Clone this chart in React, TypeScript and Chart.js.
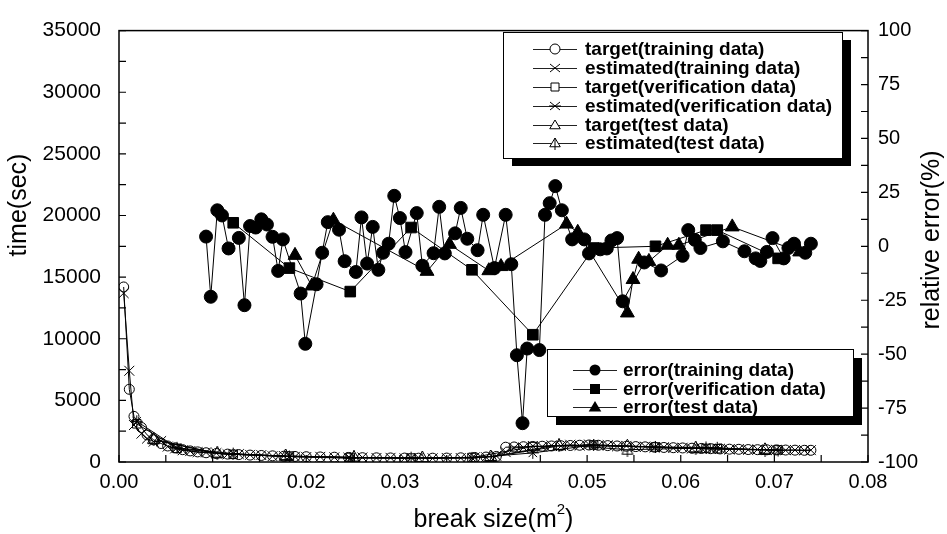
import React, { useEffect, useRef } from "react";
import { Chart, registerables } from "chart.js";

Chart.register(...registerables);

// ---------- data ----------
const xTickValues = [0, 0.01, 0.02, 0.03, 0.04, 0.05, 0.06, 0.07, 0.08];

// time curves (left axis, sec)
const trainTimeX = [0.0005, 0.0011, 0.0016, 0.0024, 0.003, 0.0037, 0.0045, 0.0052, 0.006, 0.0068, 0.0076, 0.0084, 0.0093, 0.0104, 0.0116, 0.0128, 0.014, 0.0152, 0.0164, 0.0176, 0.0188, 0.02, 0.0215, 0.023, 0.0245, 0.026, 0.0275, 0.029, 0.0305, 0.032, 0.0335, 0.035, 0.0365, 0.038, 0.0392, 0.0403, 0.0413, 0.0422, 0.0432, 0.0442, 0.0452, 0.0462, 0.0472, 0.0482, 0.0492, 0.0502, 0.0512, 0.0522, 0.0532, 0.0542, 0.0552, 0.0562, 0.0572, 0.0582, 0.0592, 0.0602, 0.0612, 0.0622, 0.0632, 0.0642, 0.0652, 0.0662, 0.0672, 0.0682, 0.0692, 0.0702, 0.0712, 0.0722, 0.0732, 0.0739];
const trainTarget = [14200, 5900, 3700, 2800, 2200, 1800, 1500, 1300, 1150, 1000, 900, 820, 750, 690, 640, 600, 560, 530, 500, 470, 450, 430, 410, 390, 370, 350, 340, 330, 320, 310, 310, 320, 340, 370, 400, 450, 1200, 1220, 1240, 1260, 1280, 1300, 1320, 1340, 1360, 1380, 1360, 1330, 1300, 1280, 1250, 1230, 1200, 1180, 1160, 1140, 1120, 1100, 1080, 1060, 1040, 1030, 1010, 1000, 990, 980, 970, 960, 950, 950];
const trainEstimated = [13700, 7400, 3000, 2300, 1900, 1650, 1700, 1250, 1100, 950, 880, 800, 780, 720, 620, 640, 580, 560, 470, 490, 430, 400, 420, 380, 350, 370, 330, 340, 300, 330, 300, 330, 320, 380, 390, 500, 800, 1150, 1180, 1300, 1240, 1350, 1290, 1400, 1330, 1420, 1340, 1360, 1270, 1310, 1220, 1250, 1170, 1200, 1130, 1160, 1090, 1120, 1050, 1080, 1010, 1050, 990, 1020, 970, 990, 950, 970, 940, 960];

const verTimeX = [0.0019, 0.0062, 0.0122, 0.0182, 0.0247, 0.0312, 0.0377, 0.0442, 0.0507, 0.0573, 0.0627, 0.0639, 0.0704];
const verTarget = [3100, 1100, 620, 480, 370, 320, 360, 1250, 1380, 1220, 1100, 1080, 980];
const verEstimated = [3300, 1150, 680, 440, 300, 350, 330, 740, 1380, 1220, 1180, 1150, 930];

const testTimeX = [0.0037, 0.0105, 0.0178, 0.0251, 0.0324, 0.0397, 0.047, 0.0543, 0.0616, 0.069];
const testTarget = [1800, 680, 480, 360, 310, 400, 1300, 1280, 1110, 990];
const testEstimated = [1850, 700, 470, 380, 290, 420, 1400, 1000, 1120, 980];

// relative error (right axis, %)
const trainErrX = [0.0093, 0.0098, 0.0105, 0.011, 0.0117, 0.0128, 0.0134, 0.014, 0.0146, 0.0152, 0.0158, 0.0164, 0.017, 0.0175, 0.0194, 0.0199, 0.0211, 0.0217, 0.0223, 0.0235, 0.0241, 0.0253, 0.0259, 0.0265, 0.0271, 0.0277, 0.0282, 0.0288, 0.0294, 0.03, 0.0306, 0.0318, 0.0324, 0.0336, 0.0342, 0.0348, 0.0359, 0.0365, 0.0372, 0.0383, 0.0389, 0.0401, 0.0413, 0.0419, 0.0425, 0.0431, 0.0436, 0.0449, 0.0455, 0.046, 0.0466, 0.0473, 0.0484, 0.0497, 0.0502, 0.0514, 0.0521, 0.0526, 0.0532, 0.0538, 0.0561, 0.0579, 0.0602, 0.0608, 0.0615, 0.0621, 0.0645, 0.0668, 0.068, 0.0685, 0.0692, 0.0698, 0.071, 0.0715, 0.0721, 0.0733, 0.0739];
const trainErr = [4.5, -23.4, 16.7, 14.3, -1, 3.9, -27.3, 9.4, 8.7, 12.5, 10.1, 4.4, -11.4, 3.2, -21.9, -45.2, -17.6, -3, 11.2, 7.7, -6.9, -11.9, 13.4, -8, 9, -10.9, -3, 1.2, 23.4, 13.1, -2.7, 15.4, -9, -3.2, 18.3, -3.3, 6, 17.8, 3.5, -1.8, 14.6, -10.1, 14.6, -8.3, -50.5, -82, -47.4, -48.1, 14.6, 20, 27.9, 16.7, 3.2, 3.2, -3.3, -1.4, -1, 2.7, 3.8, -25.5, -7.5, -11.2, -4.4, 7.5, 3, -0.8, 2.3, -2.3, -5.6, -6.8, -2.6, 3.8, -5.6, -0.8, 1.2, -3, 1.2];

const verErrX = [0.0122, 0.0182, 0.0247, 0.0312, 0.0377, 0.0442, 0.0507, 0.0573, 0.0627, 0.0639, 0.0704];
const verErr = [10.9, -10.1, -21, 8.7, -10.9, -41, -0.8, 0, 7.5, 7.5, -5.6];

const testErrX = [0.0188, 0.0206, 0.0229, 0.0329, 0.0353, 0.0395, 0.0408, 0.0478, 0.049, 0.0543, 0.0549, 0.0555, 0.0566, 0.0586, 0.0598, 0.0655, 0.0727];
const testErr = [-4.2, -18.4, 12.1, -11.6, 0.9, -11.3, -9.4, 10.3, 6.5, -30.9, -15.4, -6, -7, 0.5, 0.5, 9, -2.6];

const topLegendLabels = [
  "target(training data)",
  "estimated(training data)",
  "target(verification data)",
  "estimated(verification data)",
  "target(test data)",
  "estimated(test data)",
];
const bottomLegendLabels = ["error(training data)", "error(verification data)", "error(test data)"];

// ---------- helpers ----------
const FONT = '"Liberation Sans", Arial, Helvetica, sans-serif';
const pts = (xs: number[], ys: number[]) => xs.map((x, i) => ({ x, y: ys[i] }));

function makeTriLine(): HTMLCanvasElement {
  const c = document.createElement("canvas");
  c.width = 14;
  c.height = 14;
  const g = c.getContext("2d")!;
  g.strokeStyle = "#000";
  g.lineWidth = 1;
  g.beginPath();
  g.moveTo(7, 1.5);
  g.lineTo(12.5, 11.5);
  g.lineTo(1.5, 11.5);
  g.closePath();
  g.moveTo(7, 0);
  g.lineTo(7, 14);
  g.stroke();
  return c;
}

function drawMarker(ctx: CanvasRenderingContext2D, kind: string, x: number, y: number) {
  ctx.save();
  ctx.strokeStyle = "#000";
  ctx.fillStyle = "#000";
  ctx.lineWidth = 1;
  ctx.beginPath();
  const tri = (s: number) => {
    ctx.moveTo(x, y - s);
    ctx.lineTo(x + s * 1.05, y + s * 0.75);
    ctx.lineTo(x - s * 1.05, y + s * 0.75);
    ctx.closePath();
  };
  switch (kind) {
    case "circleOpen":
      ctx.fillStyle = "#fff";
      ctx.arc(x, y, 5, 0, Math.PI * 2);
      ctx.fill();
      ctx.stroke();
      break;
    case "x":
      ctx.moveTo(x - 5, y - 4);
      ctx.lineTo(x + 5, y + 4);
      ctx.moveTo(x - 5, y + 4);
      ctx.lineTo(x + 5, y - 4);
      ctx.stroke();
      break;
    case "squareOpen":
      ctx.fillStyle = "#fff";
      ctx.rect(x - 4, y - 4, 8, 8);
      ctx.fill();
      ctx.stroke();
      break;
    case "star":
      ctx.moveTo(x - 5, y - 4);
      ctx.lineTo(x + 5, y + 4);
      ctx.moveTo(x - 5, y + 4);
      ctx.lineTo(x + 5, y - 4);
      ctx.moveTo(x - 6, y);
      ctx.lineTo(x + 6, y);
      ctx.stroke();
      break;
    case "triOpen":
      ctx.fillStyle = "#fff";
      tri(5);
      ctx.fill();
      ctx.stroke();
      break;
    case "triLine":
      ctx.fillStyle = "#fff";
      tri(5);
      ctx.fill();
      ctx.stroke();
      ctx.beginPath();
      ctx.moveTo(x, y - 5);
      ctx.lineTo(x, y + 7);
      ctx.stroke();
      break;
    case "circleFill":
      ctx.arc(x, y, 5.5, 0, Math.PI * 2);
      ctx.fill();
      break;
    case "squareFill":
      ctx.rect(x - 5, y - 5, 10, 10);
      ctx.fill();
      break;
    case "triFill":
      tri(6);
      ctx.fill();
      break;
  }
  ctx.restore();
}

function drawLegend(
  ctx: CanvasRenderingContext2D,
  box: { x: number; y: number; w: number; h: number; dx: number; dy: number },
  rows: number[],
  lineX0: number,
  lineX1: number,
  textX: number,
  labels: string[],
  markers: string[]
) {
  ctx.save();
  ctx.fillStyle = "#000";
  ctx.fillRect(box.x + box.dx, box.y + box.dy, box.w, box.h);
  ctx.fillStyle = "#fff";
  ctx.fillRect(box.x, box.y, box.w, box.h);
  ctx.strokeStyle = "#000";
  ctx.lineWidth = 1;
  ctx.strokeRect(box.x + 0.5, box.y + 0.5, box.w, box.h);
  labels.forEach((label, i) => {
    const y = rows[i];
    ctx.strokeStyle = "#222";
    ctx.beginPath();
    ctx.moveTo(lineX0, y + 0.5);
    ctx.lineTo(lineX1, y + 0.5);
    ctx.stroke();
    drawMarker(ctx, markers[i], (lineX0 + lineX1) / 2, y);
    ctx.fillStyle = "#000";
    ctx.font = `bold 19px ${FONT}`;
    ctx.textBaseline = "middle";
    ctx.textAlign = "left";
    ctx.fillText(label, textX, y + 1);
  });
  ctx.restore();
}

const TITLE_SIZE = 25;

const decorPlugin = {
  id: "decor",
  afterDraw(chart: any) {
    const ctx: CanvasRenderingContext2D = chart.ctx;
    const a = chart.chartArea;
    const xs = chart.scales.x;
    const yl = chart.scales.y;
    const yr = chart.scales.y2;
    ctx.save();
    // frame
    ctx.strokeStyle = "#000";
    ctx.lineWidth = 1.5;
    ctx.strokeRect(a.left, a.top, a.right - a.left, a.bottom - a.top);
    // inward tick marks
    ctx.lineWidth = 1.2;
    ctx.beginPath();
    for (let i = 0; i <= 16; i++) {
      const px = xs.getPixelForValue(i * 0.005);
      ctx.moveTo(px, a.bottom);
      ctx.lineTo(px, a.bottom - 7);
    }
    for (let i = 0; i <= 14; i++) {
      const py = yl.getPixelForValue(i * 2500);
      ctx.moveTo(a.left, py);
      ctx.lineTo(a.left + 7, py);
    }
    for (let i = 0; i <= 16; i++) {
      const py = yr.getPixelForValue(-100 + i * 12.5);
      ctx.moveTo(a.right, py);
      ctx.lineTo(a.right - 7, py);
    }
    ctx.stroke();

    // axis titles
    ctx.fillStyle = "#000";
    ctx.font = `${TITLE_SIZE}px ${FONT}`;
    ctx.textBaseline = "middle";
    const t1 = "break size(m";
    const t2 = "2";
    const t3 = ")";
    const w1 = ctx.measureText(t1).width;
    const w3 = ctx.measureText(t3).width;
    ctx.font = `15px ${FONT}`;
    const w2 = ctx.measureText(t2).width;
    const total = w1 + w2 + w3;
    const cx = (a.left + a.right) / 2;
    let sx = cx - total / 2;
    const ty = 520;
    ctx.textAlign = "left";
    ctx.font = `${TITLE_SIZE}px ${FONT}`;
    ctx.fillText(t1, sx, ty);
    sx += w1;
    ctx.font = `15px ${FONT}`;
    ctx.fillText(t2, sx, ty - 10);
    sx += w2;
    ctx.font = `${TITLE_SIZE}px ${FONT}`;
    ctx.fillText(t3, sx, ty);

    ctx.save();
    ctx.translate(19, 205);
    ctx.rotate(-Math.PI / 2);
    ctx.textAlign = "center";
    ctx.fillText("time(sec)", 0, 0);
    ctx.restore();
    ctx.save();
    ctx.translate(932, 240);
    ctx.rotate(-Math.PI / 2);
    ctx.textAlign = "center";
    ctx.fillText("relative error(%)", 0, 0);
    ctx.restore();

    drawLegend(
      ctx,
      { x: 503, y: 32, w: 339, h: 126, dx: 9, dy: 8 },
      [49, 68, 87, 106, 125, 143],
      533,
      577,
      585,
      topLegendLabels,
      ["circleOpen", "x", "squareOpen", "star", "triOpen", "triLine"]
    );
    drawLegend(
      ctx,
      { x: 547, y: 349, w: 306, h: 67, dx: 9, dy: 9 },
      [370, 389, 407],
      573,
      617,
      623,
      bottomLegendLabels,
      ["circleFill", "squareFill", "triFill"]
    );
    ctx.restore();
  },
};

export default function App() {
  const ref = useRef<HTMLCanvasElement>(null);
  useEffect(() => {
    document.body.style.margin = "0";
    const canvas = ref.current!;
    const triLine = makeTriLine();
    const lineCommon = {
      borderColor: "#000",
      borderWidth: 1,
      showLine: true,
      tension: 0,
      pointBorderColor: "#000",
      pointBorderWidth: 1,
      pointHoverRadius: 0,
    };
    const chart = new Chart(canvas, {
      type: "line",
      data: {
        datasets: [
          { ...lineCommon, label: "target(training data)", yAxisID: "y", data: pts(trainTimeX, trainTarget), pointStyle: "circle", pointRadius: 5, pointBackgroundColor: "rgba(0,0,0,0)" },
          { ...lineCommon, label: "estimated(training data)", yAxisID: "y", data: pts(trainTimeX, trainEstimated), pointStyle: "crossRot", pointRadius: 7, pointBackgroundColor: "rgba(0,0,0,0)" },
          { ...lineCommon, label: "target(verification data)", yAxisID: "y", data: pts(verTimeX, verTarget), pointStyle: "rect", pointRadius: 6, pointBackgroundColor: "rgba(0,0,0,0)" },
          { ...lineCommon, label: "estimated(verification data)", yAxisID: "y", data: pts(verTimeX, verEstimated), pointStyle: "star", pointRadius: 6, pointBackgroundColor: "rgba(0,0,0,0)" },
          { ...lineCommon, label: "target(test data)", yAxisID: "y", data: pts(testTimeX, testTarget), pointStyle: "triangle", pointRadius: 7, pointBackgroundColor: "#fff" },
          { ...lineCommon, label: "estimated(test data)", yAxisID: "y", data: pts(testTimeX, testEstimated), pointStyle: triLine as any, pointRadius: 7 },
          { ...lineCommon, label: "error(training data)", yAxisID: "y2", data: pts(trainErrX, trainErr), pointStyle: "circle", pointRadius: 6.5, pointBackgroundColor: "#000" },
          { ...lineCommon, label: "error(verification data)", yAxisID: "y2", data: pts(verErrX, verErr), pointStyle: "rect", pointRadius: 7.5, pointBackgroundColor: "#000" },
          { ...lineCommon, label: "error(test data)", yAxisID: "y2", data: pts(testErrX, testErr), pointStyle: "triangle", pointRadius: 8, pointBackgroundColor: "#000" },
        ],
      },
      options: {
        responsive: false,
        animation: false,
        devicePixelRatio: 1,
        layout: { padding: { top: 17, left: 0, right: 0, bottom: 0 } },
        plugins: { legend: { display: false }, tooltip: { enabled: false }, title: { display: false } },
        events: [],
        scales: {
          x: {
            type: "linear",
            min: 0,
            max: 0.08,
            afterBuildTicks: (s: any) => {
              s.ticks = xTickValues.map((v) => ({ value: v }));
            },
            afterFit: (s: any) => {
              s.height = 72;
            },
            ticks: {
              callback: (v: any) => Number(v).toFixed(2),
              font: { family: FONT, size: 20 },
              color: "#000",
              padding: 8,
              maxRotation: 0,
              autoSkip: false,
            },
            grid: { display: false, drawTicks: false },
            border: { display: false },
          },
          y: {
            type: "linear",
            position: "left",
            min: 0,
            max: 35000,
            afterFit: (s: any) => {
              s.width = 119;
            },
            ticks: { stepSize: 5000, font: { family: FONT, size: 21 }, color: "#000", padding: 18, callback: (v: any) => String(v) },
            grid: { display: false, drawTicks: false },
            border: { display: false },
          },
          y2: {
            type: "linear",
            position: "right",
            min: -100,
            max: 100,
            afterFit: (s: any) => {
              s.width = 79;
            },
            ticks: { stepSize: 25, font: { family: FONT, size: 20 }, color: "#000", padding: 10, callback: (v: any) => String(v) },
            grid: { display: false, drawTicks: false },
            border: { display: false },
          },
        },
      } as any,
      plugins: [decorPlugin],
    });
    return () => chart.destroy();
  }, []);
  return <canvas ref={ref} width={947} height={534} style={{ display: "block", width: 947, height: 534 }} />;
}
